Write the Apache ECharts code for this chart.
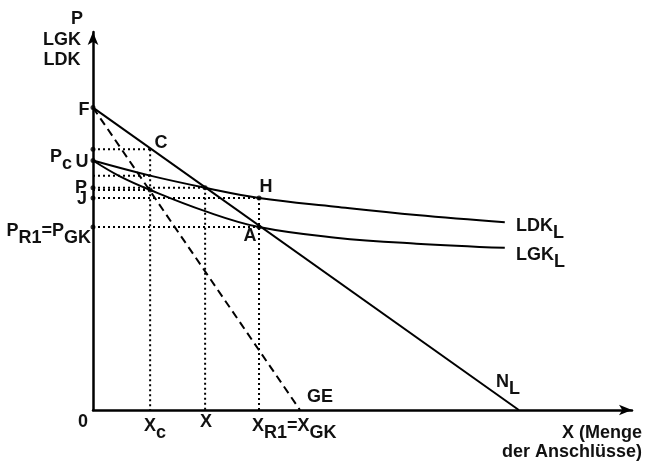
<!DOCTYPE html>
<html><head><meta charset="utf-8">
<script src="https://cdn.jsdelivr.net/npm/echarts@6/dist/echarts.min.js"></script>
<style>html,body{margin:0;padding:0;background:#fff}#c{width:645px;height:462px}</style>
</head><body><div id="c"></div>
<script>
// Data (x: 0..100, y: 0..100 units)
const nLine = [[0, 80], [79, 0]];
const geLine = [[0, 80], [38.4, 0]];
const ldkCurve = [[0, 66], [10.6, 62], [20.8, 58.8], [30.8, 56.1], [45, 53.8], [60, 51.6], [76.4, 49.7]];
const lgkCurve = [[0, 66], [5, 61.8], [10.6, 58.2], [20.8, 52.6], [30.8, 48.4], [45, 45.6], [60, 44], [76.4, 42.9]];
const xMarks = { xc: 10.6, x: 20.8, xr1: 30.8 };
const yMarks = { pc: 69, ldkXc: 62, p: 58.8, lgkXc: 58.2, j: 56.1, pr1: 48.4 };
const axisPoints = [[0, 80], [0, 66], [0, 58.8], [0, 56.1], [0, 48.4], [0, 69]];
const innerPoints = [[10.6, 58.2], [20.8, 58.8], [30.8, 56.1], [30.8, 48.4]];

const font = 'Liberation Sans, Arial, sans-serif';
const chart = echarts.init(document.getElementById('c'));
const solid = (data, smooth) => ({ type: 'line', data, smooth: smooth || false, symbol: 'none', lineStyle: { color: '#000', width: 2 }, z: 3, silent: true });
const dotted = (data) => ({ type: 'line', data, symbol: 'none', lineStyle: { color: '#000', width: 2, type: [2, 3] }, z: 2, silent: true });

const dottedSegs = [
  [[0, yMarks.pc], [xMarks.xc, yMarks.pc]],
  [[xMarks.xc, yMarks.pc], [xMarks.xc, 0]],
  [[0, yMarks.ldkXc], [xMarks.xc, yMarks.ldkXc]],
  [[0, yMarks.p], [xMarks.x, yMarks.p]],
  [[xMarks.x, yMarks.p], [xMarks.x, 0]],
  [[0, yMarks.lgkXc], [xMarks.xc, yMarks.lgkXc]],
  [[0, yMarks.j], [xMarks.xr1, yMarks.j]],
  [[0, yMarks.pr1], [xMarks.xr1, yMarks.pr1]],
  [[xMarks.xr1, yMarks.j], [xMarks.xr1, 0]]
];

const series = [
  solid(nLine),
  { type: 'line', data: geLine, symbol: 'none', lineStyle: { color: '#000', width: 2, type: [8, 5] }, z: 3, silent: true },
  solid(ldkCurve, 0.4),
  solid(lgkCurve, 0.4),
  ...dottedSegs.map(dotted),
  { type: 'scatter', data: axisPoints.concat(innerPoints), symbolSize: 5, itemStyle: { color: '#000' }, z: 5, silent: true }
];

const FS = 18;
const t = (x, y, text, align) => ({
  type: 'text', x, y,
  style: { text, font: 'bold ' + FS + 'px ' + font, fill: '#111', textAlign: align || 'center', textVerticalAlign: 'middle',
    rich: { b: { fontSize: FS, fontWeight: 'bold', fontFamily: font, verticalAlign: 'top', lineHeight: FS },
            s: { fontSize: FS, fontWeight: 'bold', fontFamily: font, verticalAlign: 'top', lineHeight: FS, padding: [7, 0, 0, 0] } } }
});
const sub = (a, b) => '{b|' + a + '}{s|' + b + '}';

chart.setOption({
  animation: false,
  backgroundColor: '#fff',
  grid: { left: 93, right: 13, top: 32, bottom: 52 },
  xAxis: { type: 'value', min: 0, max: 100, axisLabel: { show: false }, axisTick: { show: false }, splitLine: { show: false },
    axisLine: { lineStyle: { color: '#000', width: 2.5 }, symbol: ['none', 'arrow'], symbolSize: [8, 13] } },
  yAxis: { type: 'value', min: 0, max: 100, axisLabel: { show: false }, axisTick: { show: false }, splitLine: { show: false },
    axisLine: { lineStyle: { color: '#000', width: 2.5 }, symbol: ['none', 'arrow'], symbolSize: [8, 13] } },
  series,
  graphic: [
    t(77, 19, 'P'), t(62, 40, 'LGK'), t(62, 60, 'LDK'),
    t(84, 110, 'F'), t(161, 143, 'C'), t(50, 157, sub('P', 'c'), 'left'), t(82, 162, 'U'),
    t(81, 188, 'P'), t(82, 199, 'J'), t(91, 231, sub('P', 'R1') + '{b|=}' + sub('P', 'GK'), 'right'),
    t(266, 187, 'H'), t(250, 236, 'A'),
    t(83, 422, '0'), t(144, 426, sub('X', 'c'), 'left'), t(206, 422, 'X'), t(252, 426, sub('X', 'R1') + '{b|=}' + sub('X', 'GK'), 'left'),
    t(320, 397, 'GE'), t(496, 382, sub('N', 'L'), 'left'),
    t(516, 226, sub('LDK', 'L'), 'left'), t(516, 255, sub('LGK', 'L'), 'left'),
    t(642, 433, 'X (Menge', 'right'), t(642, 452, 'der Anschlüsse)', 'right')
  ]
});
</script></body></html>
